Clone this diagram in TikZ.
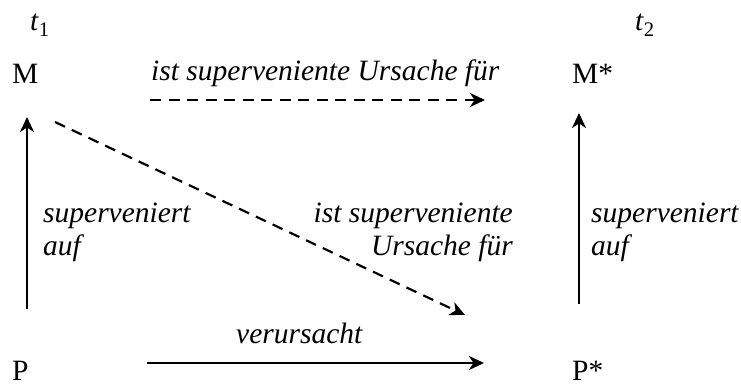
\documentclass[tikz,border=0pt]{standalone}
\usepackage{fontspec}
\setmainfont{Liberation Serif}
\usetikzlibrary{arrows.meta}
\begin{document}
\begin{tikzpicture}[x=1pt,y=-1pt,
  lbl/.style={inner sep=0pt,anchor=base west,font=\fontsize{29.5}{33}\selectfont},
  ilbl/.style={lbl,font=\fontsize{29.5}{33}\selectfont\itshape},
  arr/.style={line width=2.2pt,-{Stealth[length=15pt,width=14pt,inset=4.5pt]}},
  darr/.style={arr,dash pattern=on 11pt off 7.5pt}]
\useasboundingbox (0,0) rectangle (741,385);
% time labels
\node[lbl] (t1) at (30,31) {\textit{t}\textsubscript{1}};
\node[lbl] (t2) at (635,31) {\textit{t}\textsubscript{2}};
% main nodes
\node[lbl] (M) at (12,84) {M};
\node[lbl] (Ms) at (572,84) {M*};
\node[lbl] (P) at (12,380) {P};
\node[lbl] (Ps) at (572,380) {P*};
% connector end points
\coordinate (Lb) at (27,309);
\coordinate (Lt) at (27,117);
\coordinate (Rb) at (579,304);
\coordinate (Rt) at (579,113);
\coordinate (Ta) at (150,100);
\coordinate (Tb) at (485,100);
\coordinate (Ba) at (147,363);
\coordinate (Bb) at (484,363);
\coordinate (Da) at (55,122);
\coordinate (Db) at (465,315);
% connectors
\draw[arr] (Lb) -- (Lt);
\draw[arr] (Rb) -- (Rt);
\draw[darr] (Ta) -- (Tb);
\draw[arr] (Ba) -- (Bb);
\draw[darr] (Da) -- (Db);
% labels
\node[ilbl] (top) at (151,81) {ist superveniente Ursache für};
\node[ilbl,align=left,anchor=north west] (sl) at (43,203) {superveniert\\auf};
\node[ilbl,align=left,anchor=north west] (sr) at (591,203) {superveniert\\auf};
\node[ilbl,align=right,anchor=north east] (diag) at (513,203) {ist superveniente\\Ursache für};
\node[ilbl] (ver) at (236,343) {verursacht};
\end{tikzpicture}
\end{document}
